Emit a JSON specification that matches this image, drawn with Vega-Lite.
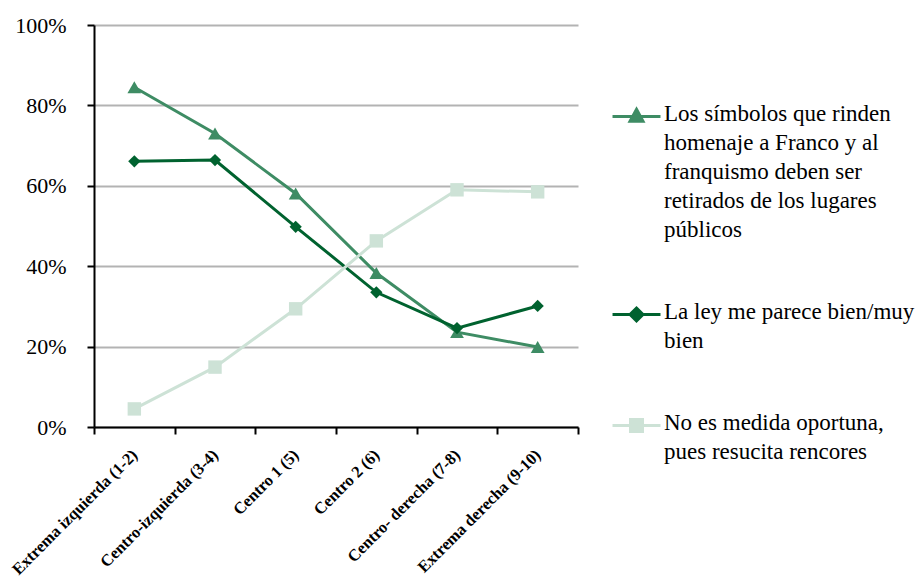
{
  "$schema": "https://vega.github.io/schema/vega-lite/v6.json",
  "width": 484,
  "height": 402,
  "autosize": {"type": "none"},
  "padding": {"left": 94, "top": 25, "right": 340, "bottom": 161},
  "background": "white",
  "config": {
    "view": {"stroke": null},
    "font": "Liberation Serif"
  },
  "data": {
    "values": [
      {"grupo": "Extrema izquierda (1-2)", "serie": "Los símbolos que rinden homenaje a Franco y al franquismo  deben ser retirados de los lugares públicos", "valor": 84.5},
      {"grupo": "Centro-izquierda (3-4)", "serie": "Los símbolos que rinden homenaje a Franco y al franquismo  deben ser retirados de los lugares públicos", "valor": 73.0},
      {"grupo": "Centro 1 (5)", "serie": "Los símbolos que rinden homenaje a Franco y al franquismo  deben ser retirados de los lugares públicos", "valor": 58.1},
      {"grupo": "Centro 2 (6)", "serie": "Los símbolos que rinden homenaje a Franco y al franquismo  deben ser retirados de los lugares públicos", "valor": 38.3},
      {"grupo": "Centro- derecha (7-8)", "serie": "Los símbolos que rinden homenaje a Franco y al franquismo  deben ser retirados de los lugares públicos", "valor": 23.6},
      {"grupo": "Extrema derecha (9-10)", "serie": "Los símbolos que rinden homenaje a Franco y al franquismo  deben ser retirados de los lugares públicos", "valor": 19.9},
      {"grupo": "Extrema izquierda (1-2)", "serie": "La ley me parece bien/muy bien", "valor": 66.1},
      {"grupo": "Centro-izquierda (3-4)", "serie": "La ley me parece bien/muy bien", "valor": 66.4},
      {"grupo": "Centro 1 (5)", "serie": "La ley me parece bien/muy bien", "valor": 49.8},
      {"grupo": "Centro 2 (6)", "serie": "La ley me parece bien/muy bien", "valor": 33.5},
      {"grupo": "Centro- derecha (7-8)", "serie": "La ley me parece bien/muy bien", "valor": 24.6},
      {"grupo": "Extrema derecha (9-10)", "serie": "La ley me parece bien/muy bien", "valor": 30.1},
      {"grupo": "Extrema izquierda (1-2)", "serie": "No es medida oportuna, pues resucita rencores", "valor": 4.5},
      {"grupo": "Centro-izquierda (3-4)", "serie": "No es medida oportuna, pues resucita rencores", "valor": 14.9},
      {"grupo": "Centro 1 (5)", "serie": "No es medida oportuna, pues resucita rencores", "valor": 29.4},
      {"grupo": "Centro 2 (6)", "serie": "No es medida oportuna, pues resucita rencores", "valor": 46.3},
      {"grupo": "Centro- derecha (7-8)", "serie": "No es medida oportuna, pues resucita rencores", "valor": 59.0},
      {"grupo": "Extrema derecha (9-10)", "serie": "No es medida oportuna, pues resucita rencores", "valor": 58.5}
    ]
  },
  "encoding": {
    "x": {
      "field": "grupo",
      "type": "nominal",
      "sort": null,
      "scale": {"paddingInner": 0, "paddingOuter": 0},
      "axis": {
        "title": null,
        "domainColor": "#000000",
        "domainWidth": 2,
        "tickColor": "#000000",
        "tickWidth": 2,
        "tickSize": 7,
        "tickBand": "extent",
        "labelAngle": -45,
        "labelAlign": "right",
        "labelBaseline": "middle",
        "labelFont": "Liberation Serif",
        "labelFontWeight": "bold",
        "labelFontSize": 16.5,
        "labelColor": "#000000",
        "labelPadding": 18,
        "labelLimit": 300,
        "encode": {
          "labels": {
            "update": {
              "dx": {"signal": "datum.value == 'Centro- derecha (7-8)' ? 7 : datum.value == 'Extrema derecha (9-10)' ? 10.5 : datum.value == 'Centro 1 (5)' ? -3 : 0"},
              "dy": {"signal": "datum.value == 'Centro- derecha (7-8)' ? 7 : datum.value == 'Extrema derecha (9-10)' ? 10.5 : datum.value == 'Centro 1 (5)' ? -3 : 0"}
            }
          }
        }
      }
    },
    "y": {
      "field": "valor",
      "type": "quantitative",
      "scale": {"domain": [0, 100], "nice": false},
      "axis": {
        "title": null,
        "values": [0, 20, 40, 60, 80, 100],
        "labelExpr": "datum.value + '%'",
        "domainColor": "#000000",
        "domainWidth": 2,
        "tickColor": "#000000",
        "tickWidth": 2,
        "tickSize": 7,
        "grid": true,
        "gridColor": "#b3b3b3",
        "gridWidth": 2,
        "labelFont": "Liberation Serif",
        "labelFontSize": 22,
        "labelColor": "#000000",
        "labelPadding": 21
      }
    },
    "color": {
      "field": "serie",
      "type": "nominal",
      "sort": null,
      "scale": {
        "domain": [
          "Los símbolos que rinden homenaje a Franco y al franquismo  deben ser retirados de los lugares públicos",
          "La ley me parece bien/muy bien",
          "No es medida oportuna, pues resucita rencores"
        ],
        "range": ["#3e8c64", "#00622f", "#cde2d6"]
      },
      "legend": {
        "title": null,
        "orient": "none",
        "legendX": 517,
        "legendY": 66,
        "symbolSize": 2300,
        "symbolStrokeWidth": 3,
        "symbolType": "M-1,0H1",
        "labelFont": "Liberation Serif",
        "labelFontSize": 23,
        "labelColor": "#000000",
        "labelLimit": 400,
        "labelOffset": 2,
        "labelBaseline": "top",
        "rowPadding": 47,
        "labelExpr": "indexof(datum.label, 'Los') == 0 ? ['Los símbolos que rinden', 'homenaje a Franco y al', 'franquismo  deben ser', 'retirados de los lugares', 'públicos'] : indexof(datum.label, 'La ley') == 0 ? ['La ley me parece bien/muy', 'bien'] : ['No es medida oportuna,', 'pues resucita rencores']",
        "encode": {
          "labels": {
            "update": {
              "lineHeight": {"value": 29},
              "dy": {"value": -14}
            }
          },
          "symbols": {
            "update": {
              "shape": {"signal": "indexof(datum.value, 'Los') == 0 ? 'M-1,0H1M0,-0.3L0.27,0.2L-0.27,0.2Z' : indexof(datum.value, 'La ley') == 0 ? 'M-1,0H1M0,-0.27L0.27,0L0,0.27L-0.27,0Z' : 'M-1,0H1M-0.25,-0.25H0.25V0.25H-0.25Z'"},
              "fill": {"signal": "indexof(datum.value, 'Los') == 0 ? '#3e8c64' : indexof(datum.value, 'La ley') == 0 ? '#00622f' : '#cde2d6'"},
              "strokeWidth": {"value": 3}
            }
          }
        }
      }
    }
  },
  "layer": [
    {
      "mark": {"type": "line", "strokeWidth": 3}
    },
    {
      "mark": {"type": "point", "filled": true, "opacity": 1},
      "encoding": {
        "shape": {
          "condition": [
            {"test": "datum.serie == 'La ley me parece bien/muy bien'", "value": "diamond"},
            {"test": "datum.serie == 'No es medida oportuna, pues resucita rencores'", "value": "square"}
          ],
          "value": "triangle-up"
        },
        "size": {
          "condition": [
            {"test": "datum.serie == 'La ley me parece bien/muy bien'", "value": 150},
            {"test": "datum.serie == 'No es medida oportuna, pues resucita rencores'", "value": 180}
          ],
          "value": 190
        }
      }
    }
  ]
}
